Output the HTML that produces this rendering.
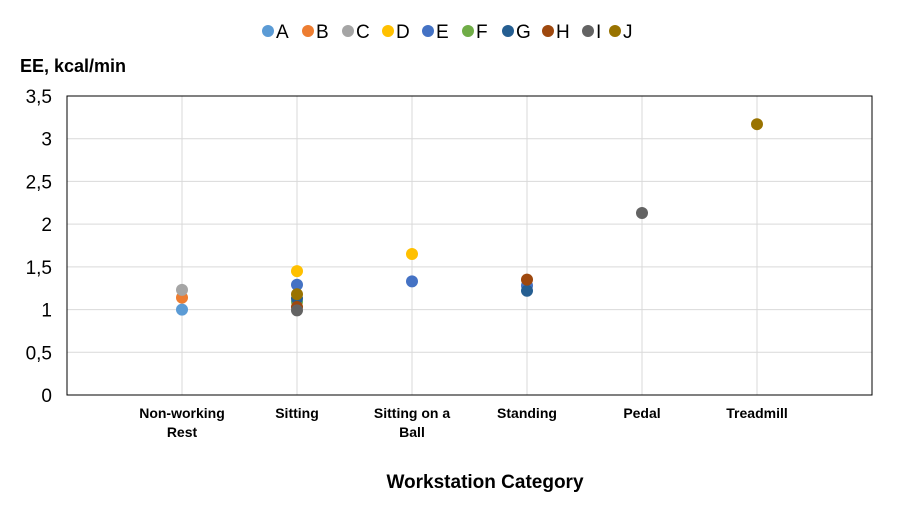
<!DOCTYPE html>
<html><head><meta charset="utf-8"><style>
body{margin:0;background:#fff;font-family:"Liberation Sans",Arial,sans-serif}
svg text{font-family:"Liberation Sans",Arial,sans-serif}
</style></head><body>
<svg id="c" width="917" height="500"></svg>
<script>
const categories=["Non-working|Rest","Sitting","Sitting on a|Ball","Standing","Pedal","Treadmill"];
const seriesNames=["A","B","C","D","E","F","G","H","I","J"];
const colors=["#5B9BD5","#ED7D31","#A5A5A5","#FFC000","#4472C4","#70AD47","#255E91","#9E480E","#636363","#997300"];
const sA=[1.0,null,null,null,null,null];
const sB=[1.14,null,null,null,null,null];
const sC=[1.23,null,null,null,null,null];
const sD=[null,1.45,1.65,null,null,null];
const sE=[null,1.29,1.33,1.28,null,null];
const sF=[null,1.09,null,null,null,null];
const sG=[null,1.13,null,1.22,null,null];
const sH=[null,1.03,null,1.35,null,null];
const sI=[null,0.99,null,null,2.13,null];
const sJ=[null,1.18,null,null,null,3.17];
const yTicks=[0,0.5,1,1.5,2,2.5,3,3.5];
const yTickLabels=["0","0,5","1","1,5","2","2,5","3","3,5"];
const series=[sA,sB,sC,sD,sE,sF,sG,sH,sI,sJ];
const NS="http://www.w3.org/2000/svg",svg=document.getElementById("c");
const L=67,R=872,T=96,B=395;
const y=v=>B-(v/3.5)*(B-T);
const x=i=>L+(i+1)*(R-L)/(categories.length+1);
function mk(t,a){const e=document.createElementNS(NS,t);for(const k in a)e.setAttribute(k,a[k]);svg.appendChild(e);return e;}
yTicks.forEach((v,i)=>{
 if(v>0){const g=mk("line",{x1:L,x2:R,y1:y(v),y2:y(v),stroke:"#d9d9d9","stroke-width":1});
 
 }
 const t=mk("text",{x:52,y:y(v)+7,"text-anchor":"end","font-size":19,fill:"#000"});t.textContent=yTickLabels[i];
 
 
});
categories.forEach((c,i)=>{
 const g=mk("line",{x1:x(i),x2:x(i),y1:T,y2:B,stroke:"#d9d9d9","stroke-width":1});
 
 
 c.split("|").forEach((p,j)=>{const t=mk("text",{x:x(i),y:418+j*19,"text-anchor":"middle","font-size":14,"font-weight":"bold",fill:"#000"});t.textContent=p;
 
 });
});
const fr=mk("rect",{x:L,y:T,width:R-L,height:B-T,fill:"none",stroke:"#000","stroke-width":1});


series.forEach((s,k)=>s.forEach((v,i)=>{if(v==null)return;
 const p=mk("circle",{cx:x(i),cy:y(v),r:6,fill:colors[k]});
 
 }));
let lx=262;
seriesNames.forEach((n,k)=>{
 const c=mk("circle",{cx:lx+6,cy:31,r:6,fill:colors[k]});
 
 
 const t=mk("text",{x:lx+14,y:38,"font-size":19,fill:"#000"});t.textContent=n;
 
 
 lx+=n==="I"?27:40;
});
const yt=mk("text",{x:20,y:72,"font-size":18,"font-weight":"bold",fill:"#000"});yt.textContent="EE, kcal/min";


const xt=mk("text",{x:485,y:488,"text-anchor":"middle","font-size":19,"font-weight":"bold",fill:"#000"});xt.textContent="Workstation Category";


</script>
</body></html>
